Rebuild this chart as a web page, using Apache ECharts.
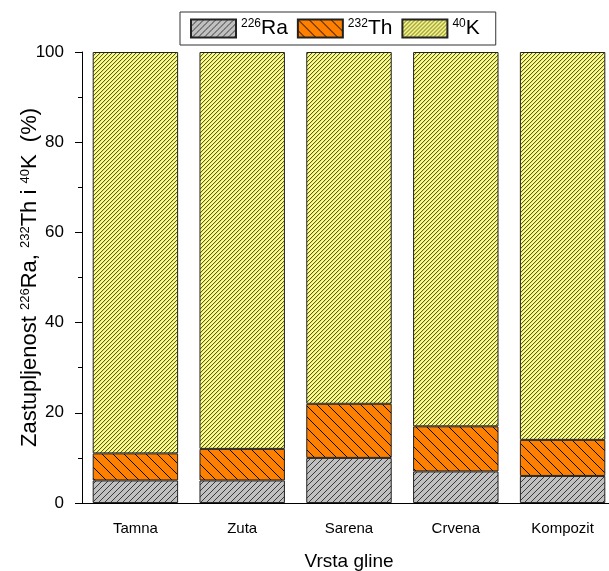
<!DOCTYPE html>
<html>
<head>
    <meta charset="utf-8">
    <title>Zastupljenost</title>
    <script src="https://cdn.jsdelivr.net/npm/echarts@6/dist/echarts.min.js"></script>
</head>
<body style="margin:0">
    <div id="main" style="width: 609px;height:571px;"></div>
    <script type="text/javascript">
        // vrste gline i udjeli (%) pojedinih radionuklida
        var categories = ['Tamna', 'Zuta', 'Sarena', 'Crvena', 'Kompozit'];
        var ra226 = [5, 5, 10, 7, 6];
        var th232 = [6, 7, 12, 10, 8];
        var k40 = [89, 88, 78, 83, 86];
        var yTicks = [0, 20, 40, 60, 80, 100];

        // hatch tile: dir 1 = '/', dir -1 = '\'
        function hatch(bg, fg, n, dir, fg2) {
            var c = document.createElement('canvas');
            c.width = n; c.height = n;
            var ctx = c.getContext('2d');
            ctx.fillStyle = bg;
            ctx.fillRect(0, 0, n, n);
            for (var x = 0; x < n; x++) {
                for (var y = 0; y < n; y++) {
                    var k = dir > 0 ? (x + y) % n : ((x - y) % n + n) % n;
                    if (k === 0) {
                        ctx.fillStyle = fg;
                        ctx.fillRect(x, y, 1, 1);
                    } else if (fg2 && k === 1) {
                        ctx.fillStyle = fg2;
                        ctx.fillRect(x, y, 1, 1);
                    }
                }
            }
            return { image: c, repeat: 'repeat' };
        }

        var grayFill = hatch('#c0c0c0', '#3a3a3a', 6, 1);
        var orangeFill = hatch('#ff8000', '#000000', 11, -1);
        var yellowFill = hatch('#ffff80', '#5a5a38', 4, 1, '#e6e672');

        var sups = { Ra: '226', Th: '232', K: '40' };

        var chartDom = document.getElementById('main');
        var myChart = echarts.init(chartDom);
        var option;

        function barSeries(name, data, fill) {
            return {
                name: name,
                type: 'bar',
                stack: 'all',
                data: data,
                barCategoryGap: '20%',
                itemStyle: {
                    color: fill,
                    borderColor: '#222',
                    borderWidth: 1
                }
            };
        }

        option = {
            animation: false,
            textStyle: { fontFamily: 'Liberation Sans, Arial, sans-serif' },
            legend: {
                left: 180,
                top: 12,
                padding: [6, 16, 6, 10],
                icon: 'rect',
                itemWidth: 45,
                itemHeight: 18,
                itemGap: 9,
                backgroundColor: '#fff',
                borderColor: '#333',
                borderWidth: 1,
                borderRadius: 0,
                data: ['Ra', 'Th', 'K'],
                formatter: function (name) {
                    return '{s|' + sups[name] + '}{m|' + name + '}';
                },
                textStyle: {
                    rich: {
                        s: { fontSize: 12, color: '#000', verticalAlign: 'top', padding: [0, 0, 8, 0] },
                        m: { fontSize: 21, color: '#000' }
                    }
                }
            },
            grid: {
                left: 82,
                right: -7,
                top: 52,
                bottom: 68,
                containLabel: false,
                outerBoundsMode: 'none'
            },
            xAxis: [{
                type: 'category',
                data: categories,
                name: 'Vrsta gline',
                nameLocation: 'middle',
                nameGap: 49,
                nameMoveOverlap: false,
                nameTextStyle: { fontSize: 19, color: '#000' },
                axisLine: { lineStyle: { color: '#000', width: 1 } },
                axisTick: { alignWithLabel: true, length: 8, lineStyle: { color: '#000' } },
                axisLabel: { fontSize: 15, color: '#000', margin: 18 }
            }, {
                type: 'category',
                data: categories,
                position: 'bottom',
                axisLine: { show: false },
                axisTick: { alignWithLabel: false, length: 4, lineStyle: { color: '#000' } },
                axisLabel: { show: false }
            }],
            yAxis: {
                type: 'value',
                min: yTicks[0],
                max: yTicks[yTicks.length - 1],
                interval: 20,
                name: 'Zastupljenost {s|226}Ra, {s|232}Th i {s|40}K  (%)',
                nameLocation: 'middle',
                nameGap: 41,
                nameMoveOverlap: false,
                nameTextStyle: {
                    fontSize: 22,
                    color: '#000',
                    rich: {
                        s: { fontSize: 13, color: '#000', verticalAlign: 'top', padding: [0, 0, 9, 0] }
                    }
                },
                axisLine: { show: true, lineStyle: { color: '#000', width: 1 } },
                axisTick: { show: true, length: 7, lineStyle: { color: '#000' } },
                minorTick: { show: true, splitNumber: 2, length: 4, lineStyle: { color: '#000' } },
                splitLine: { show: false },
                axisLabel: { fontSize: 17, color: '#000', margin: 18 }
            },
            series: [
                barSeries('Ra', ra226, grayFill),
                barSeries('Th', th232, orangeFill),
                barSeries('K', k40, yellowFill)
            ]
        };

        option && myChart.setOption(option);
    </script>
</body>
</html>
